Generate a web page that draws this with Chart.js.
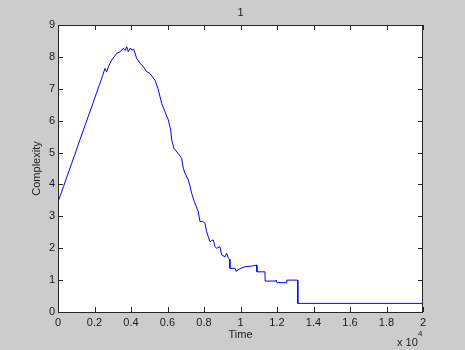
<!DOCTYPE html>
<html>
<head>
<meta charset="utf-8">
<script src="https://cdn.jsdelivr.net/npm/chart.js@4.4.1/dist/chart.umd.min.js"></script>
<style>
  html, body { margin: 0; padding: 0; background: #cccccc; }
  #box { width: 465px; height: 350px; }
</style>
</head>
<body>
<div id="box"><canvas id="complexityChart" width="465" height="350"></canvas></div>
<script>
// Time samples and complexity values
var timeValues = [
  0, 300, 600, 900, 1200, 1500, 1800, 2100, 2300, 2450,
  2575, 2670, 2760, 2940, 3100, 3215, 3400, 3580, 3680, 3765,
  3850, 3960, 4050, 4150, 4310, 4500, 4680, 4870, 5040, 5200,
  5315, 5500, 5680, 5860, 6045, 6175, 6230, 6355, 6470, 6590,
  6775, 6865, 6960, 7140, 7230, 7325, 7470, 7580, 7690, 7780,
  7900, 8055, 8145, 8330, 8420, 8510, 8600, 8695, 8875, 8970,
  9150, 9240, 9330, 9410, 9420, 9700, 9760, 9800, 10050, 10250,
  10600, 10880, 10900, 11340, 11350, 11900, 11945, 12000, 12530, 12540,
  13130, 13140, 20000
];
var complexityValues = [
  3.45, 3.93, 4.42, 4.90, 5.40, 5.88, 6.36, 6.85, 7.17, 7.42,
  7.64, 7.53, 7.69, 7.90, 8.02, 8.11, 8.16, 8.27, 8.20, 8.32,
  8.16, 8.28, 8.21, 8.24, 7.95, 7.80, 7.69, 7.53, 7.48, 7.35,
  7.27, 6.96, 6.54, 6.28, 6.02, 5.71, 5.39, 5.13, 5.05, 4.97,
  4.82, 4.51, 4.35, 4.14, 3.95, 3.72, 3.46, 3.30, 3.14, 2.83,
  2.85, 2.78, 2.52, 2.20, 2.24, 2.26, 2.05, 2.00, 2.05, 1.79,
  1.73, 1.84, 1.70, 1.65, 1.37, 1.37, 1.28, 1.30, 1.38, 1.42,
  1.44, 1.47, 1.26, 1.26, 0.97, 0.97, 1.00, 0.92, 0.92, 1.00,
  1.00, 0.27, 0.27
];
var xTickLabels = ['0', '0.2', '0.4', '0.6', '0.8', '1', '1.2', '1.4', '1.6', '1.8', '2'];
var yTickLabels = ['0', '1', '2', '3', '4', '5', '6', '7', '8', '9'];

var points = timeValues.map(function (t, i) {
  return { x: t, y: complexityValues[i] };
});

// MATLAB style frame: grey figure, white axes, box with inward ticks
var matlabAxes = {
  id: 'matlabAxes',
  beforeDraw: function (chart) {
    var ctx = chart.ctx, a = chart.chartArea;
    ctx.save();
    ctx.fillStyle = '#cccccc';
    ctx.fillRect(0, 0, chart.width, chart.height);
    ctx.fillStyle = '#ffffff';
    ctx.fillRect(a.left, a.top, a.right - a.left, a.bottom - a.top);
    ctx.restore();
  },
  afterDatasetsDraw: function (chart) {
    var ctx = chart.ctx, a = chart.chartArea;
    var xs = chart.scales.x, ys = chart.scales.y;
    var len = 5;
    ctx.save();
    ctx.strokeStyle = '#262626';
    ctx.lineWidth = 1;
    ctx.beginPath();
    ctx.rect(a.left + 0.5, a.top + 0.5, a.right - a.left - 1, a.bottom - a.top);
    xs.ticks.forEach(function (tk) {
      var px = Math.round(xs.getPixelForValue(tk.value)) + 0.5;
      ctx.moveTo(px, a.bottom); ctx.lineTo(px, a.bottom - len);
      ctx.moveTo(px, a.top); ctx.lineTo(px, a.top + len);
    });
    ys.ticks.forEach(function (tk) {
      var py = Math.round(ys.getPixelForValue(tk.value)) + 0.5;
      ctx.moveTo(a.left, py); ctx.lineTo(a.left + len, py);
      ctx.moveTo(a.right, py); ctx.lineTo(a.right - len, py);
    });
    ctx.stroke();
    ctx.restore();
  },
  afterDraw: function (chart) {
    var ctx = chart.ctx, a = chart.chartArea;
    ctx.save();
    ctx.fillStyle = '#1a1a1a';
    ctx.textBaseline = 'middle';
    ctx.textAlign = 'left';
    ctx.font = '11px "Liberation Sans", Arial, sans-serif';
    ctx.fillText('x 10', a.right - 26, 343);
    ctx.font = '8px "Liberation Sans", Arial, sans-serif';
    ctx.fillText('4', a.right - 5, 334);
    ctx.restore();
  }
};

Chart.defaults.font.family = '"Liberation Sans", Arial, sans-serif';
Chart.defaults.font.size = 11;
Chart.defaults.color = '#1a1a1a';

var config = {
  type: 'line',
  data: {
    datasets: [{
      label: '1',
      data: points,
      borderColor: '#0000ff',
      borderWidth: 1,
      pointRadius: 0,
      tension: 0,
      fill: false
    }]
  },
  options: {
    responsive: false,
    animation: false,
    events: [],
    layout: { padding: { left: 0, right: 42, top: 0, bottom: 0 } },
    plugins: {
      legend: { display: false },
      tooltip: { enabled: false },
      title: {
        display: true,
        text: '1',
        fullSize: false,
        font: { size: 11, weight: 'normal' },
        color: '#1a1a1a',
        padding: { top: 6, bottom: 5.8 }
      }
    },
    scales: {
      x: {
        type: 'linear',
        min: 0,
        max: 20000,
        grid: { display: false, drawTicks: false },
        border: { display: false },
        ticks: {
          stepSize: 2000,
          padding: 4,
          maxRotation: 0,
          autoSkip: false,
          callback: function (v, i) { return xTickLabels[i]; }
        },
        title: { display: true, text: 'Time', padding: { top: 0, bottom: 8 } },
        afterFit: function (s) { s.height = 38; }
      },
      y: {
        min: 0,
        max: 9,
        grid: { display: false, drawTicks: false },
        border: { display: false },
        ticks: {
          stepSize: 1,
          padding: 3,
          callback: function (v, i) { return yTickLabels[i]; }
        },
        title: { display: true, text: 'Complexity', padding: { top: 30, bottom: 0 } },
        afterFit: function (s) { s.width = 58; }
      }
    }
  },
  plugins: [matlabAxes]
};

var myChart = new Chart(document.getElementById('complexityChart'), config);
</script>
</body>
</html>
